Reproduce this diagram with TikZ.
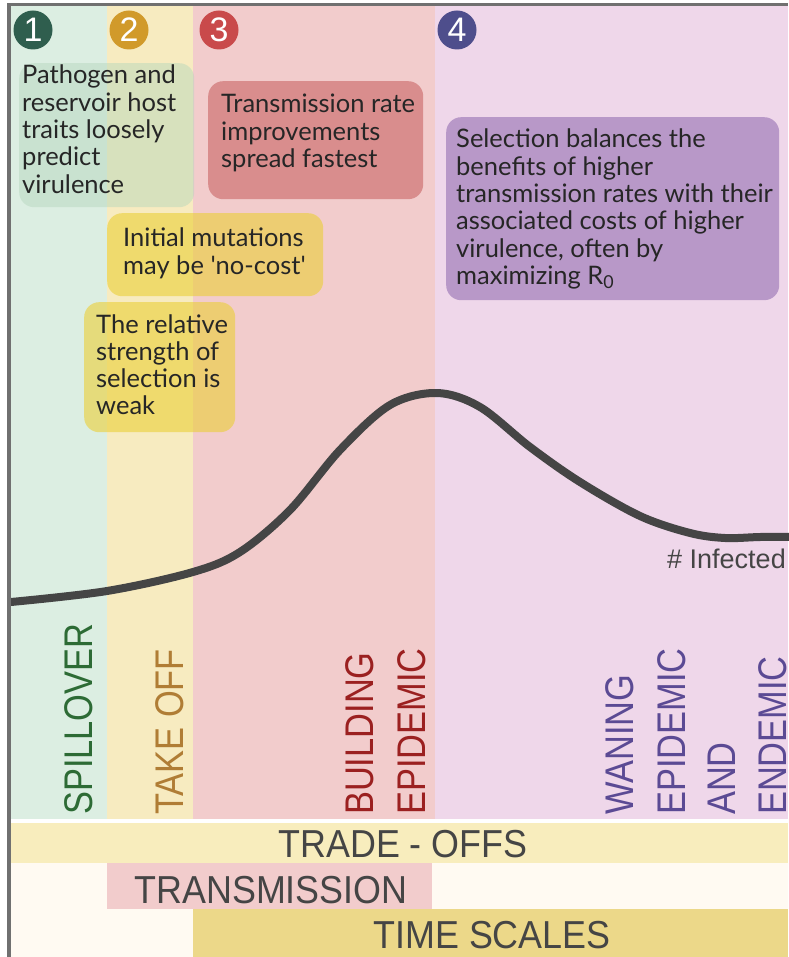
\documentclass[tikz,border=0pt]{standalone}
\usepackage{fontspec}
\setmainfont{Lato}
\newfontfamily\labfont[FakeStretch=0.86]{Liberation Sans}
\newfontfamily\barfont[FakeStretch=0.92]{Liberation Sans}
\newfontfamily\plainsans{Liberation Sans}
\definecolor{bandA}{HTML}{DCEEE2}
\definecolor{bandB}{HTML}{F7EBC0}
\definecolor{bandC}{HTML}{F2CCCC}
\definecolor{bandD}{HTML}{EFD7EA}
\definecolor{bordc}{HTML}{707070}
\definecolor{curvec}{HTML}{454545}
\definecolor{cream}{HTML}{FFFAF2}
\definecolor{tradec}{HTML}{F8EDBD}
\definecolor{transc}{HTML}{F2CCCC}
\definecolor{timec}{HTML}{ECD889}
\definecolor{bartext}{HTML}{454545}
\definecolor{txtdark}{HTML}{262626}
\definecolor{greenbox}{HTML}{B2D5BB}
\definecolor{yelbox}{HTML}{EBCF37}
\definecolor{redbox}{HTML}{D98D8D}
\definecolor{purbox}{HTML}{B898C8}
\definecolor{cA}{HTML}{2F5E4E}
\definecolor{cB}{HTML}{D19A2A}
\definecolor{cC}{HTML}{C94A4B}
\definecolor{cD}{HTML}{4E4E8C}
\definecolor{spillc}{HTML}{2D6B35}
\definecolor{takec}{HTML}{B07D35}
\definecolor{buildc}{HTML}{9B2020}
\definecolor{wanec}{HTML}{5B4A94}
\begin{document}
\begin{tikzpicture}[x=1pt,y=-1pt,
  box/.style={rectangle, rounded corners=15pt, inner sep=0pt, anchor=north west},
  txt/.style={inner sep=0pt, anchor=base west, text=txtdark, font=\fontsize{25.5}{27.3}\selectfont},
  numc/.style={circle, minimum size=39pt, inner sep=0pt, text=white, font=\plainsans\fontsize{34}{34}\selectfont},
  vlab/.style={rotate=90, anchor=base west, inner sep=0pt, font=\labfont\fontsize{40}{40}\selectfont},
  barlab/.style={anchor=base, inner sep=0pt, text=bartext, font=\barfont\fontsize{39}{39}\selectfont},
  curve/.style={draw=curvec, line width=8pt, line cap=round}
]
\useasboundingbox (0,0) rectangle (788,957);
\fill[white] (0,0) rectangle (788,957);
% phase bands
\fill[bandA] (11,5) rectangle (107,819);
\fill[bandB] (107,5) rectangle (193,819);
\fill[bandC] (193,5) rectangle (435,819);
\fill[bandD] (435,5) rectangle (788,819);
% bottom bars
\fill[cream] (11,823) rectangle (788,957);
\fill[tradec] (11,823) rectangle (788,863);
\fill[transc] (107,863) rectangle (432,909);
\fill[timec] (193,909) rectangle (788,957);
\node[barlab] (trade) at (403,857) {TRADE - OFFS};
\node[barlab] (trans) at (271,903) {TRANSMISSION};
\node[barlab] (time) at (492,948) {TIME SCALES};
% number circles
\node[numc, fill=cA] (n1) at (33,30) {1};
\node[numc, fill=cB] (n2) at (129,30) {2};
\node[numc, fill=cC] (n3) at (219,30) {3};
\node[numc, fill=cD] (n4) at (457,30) {4};
% text boxes
\node[box, fill=greenbox, fill opacity=0.45, minimum width=175pt, minimum height=144pt] (gbox) at (19,63) {};
\node[box, fill=redbox, minimum width=215pt, minimum height=118pt] (rbox) at (208,81) {};
\node[box, fill=yelbox, fill opacity=0.6, minimum width=216pt, minimum height=83pt] (ybox1) at (107,213) {};
\node[box, fill=yelbox, fill opacity=0.6, minimum width=151pt, minimum height=130pt] (ybox2) at (84,302) {};
\node[box, fill=purbox, minimum width=333pt, minimum height=183pt] (pbox) at (446,117) {};
\node[txt] (gtxt) at (22,84) {\begin{tabular}[t]{@{}l@{}}Pathogen and\\reservoir host\\traits loosely\\predict\\virulence\end{tabular}};
\node[txt] (rtxt) at (221,113) {\begin{tabular}[t]{@{}l@{}}Transmission rate\\improvements\\spread fastest\end{tabular}};
\node[txt] (y1txt) at (123,247) {\begin{tabular}[t]{@{}l@{}}Initial mutations\\may be \textquotesingle no-cost\textquotesingle\end{tabular}};
\node[txt] (y2txt) at (96,333) {\begin{tabular}[t]{@{}l@{}}The relative\\strength of\\selection is\\weak\end{tabular}};
\node[txt] (ptxt) at (456,148) {\begin{tabular}[t]{@{}l@{}}Selection balances the\\benefits of higher\\transmission rates with their\\associated costs of higher\\virulence, often by\\maximizing R\textsubscript{0}\end{tabular}};
% epidemic curve
\draw[curve] plot[smooth, tension=0.55] coordinates {(11,602) (107,591) (193,572) (240,552) (290,510) (340,450) (390,405) (437,393) (480,407) (530,447) (580,482) (640,516) (690,533) (725,538) (760,537) (790,537)};
\node[inner sep=0pt, anchor=base west, text=bartext, font=\plainsans\fontsize{27}{27}\selectfont] (inf) at (667,568) {\# Infected};
% phase labels
\node[vlab, text=spillc] (sp) at (92,815) {SPILLOVER};
\node[vlab, text=takec] (to) at (183,815) {TAKE OFF};
\node[vlab, text=buildc] (bu) at (373,815) {BUILDING};
\node[vlab, text=buildc] (ep1) at (425,815) {EPIDEMIC};
\node[vlab, text=wanec] (wa) at (633,815) {WANING};
\node[vlab, text=wanec] (ep2) at (685,815) {EPIDEMIC};
\node[vlab, text=wanec] (an) at (735,815) {AND};
\node[vlab, text=wanec] (en) at (786,815) {ENDEMIC};
% frame
\fill[bordc] (7,3.3) rectangle (788,5.8);
\fill[bordc] (7,3.3) rectangle (11.3,957);
\end{tikzpicture}
\end{document}
